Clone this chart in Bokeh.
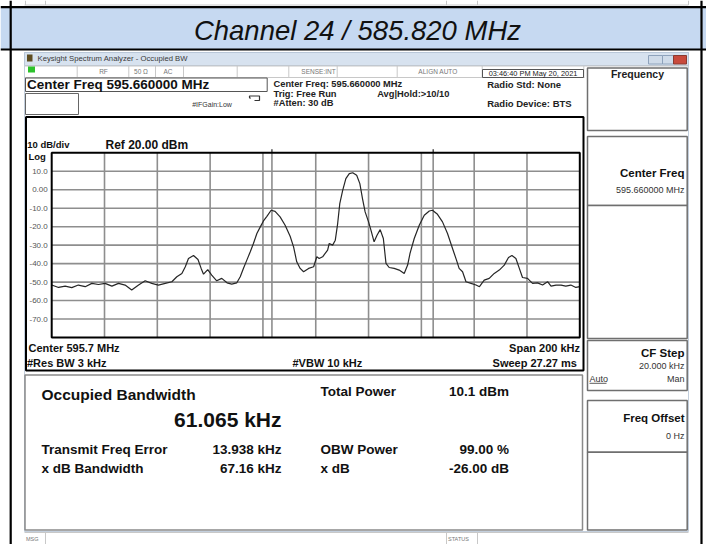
from bokeh.plotting import figure
from bokeh.models import Range1d
from bokeh.core.properties import value
from bokeh.embed import file_html
from bokeh.resources import INLINE

# ---------------- data ----------------
title_text = "Channel 24 / 585.820 MHz"

freq_khz = [-100, -97.4, -94.9, -92.4, -89.9, -87.3, -84.8, -82.3, -79.8, -77.2,
            -74.7, -72.2, -69.7, -67.1, -64.6, -62.1, -59.6, -57.0, -54.5,
            -52.6, -50.7, -49.4, -48.2, -46.3, -44.6, -43.4, -42.5, -40.9, -39.4,
            -37.5, -35.6, -33.6, -31.8, -29.9, -28.6,
            -27.4, -26.1, -24.8, -23.6, -22.3, -21.0, -19.8, -18.5, -16.9, -15.4,
            -13.5, -11.6, -9.7, -8.4, -7.2, -5.9, -4.6, -2.7, -0.8, 0.4,
            1.3, 2.6, 4.5, 5.1, 6.4, 7.4, 8.3, 9.1, 10.2, 11.4,
            12.7, 14.0, 15.5, 16.7, 17.7, 18.7, 20.0, 20.9, 22.1, 23.2,
            24.4, 25.6, 26.6, 27.8, 29.7, 31.6, 33.5, 34.8, 35.7, 37.3,
            39.2, 41.1, 43.0, 44.2, 46.1, 48.0, 49.9, 51.8, 53.3, 54.3,
            55.6, 56.9, 58.8, 60.7, 62.0, 63.8, 65.7, 67.6, 69.5, 71.4,
            73.0, 74.3, 75.8, 77.1, 78.3, 80.2, 82.1, 84.0, 85.9, 87.8,
            89.1, 91.0, 92.9, 94.7, 96.6, 98.5, 100]
level_dbm = [-51.6, -52.9, -52.2, -53.0, -51.6, -52.5, -50.7, -51.3, -50.7, -52.2,
             -50.7, -51.6, -54.3, -51.6, -49.3, -50.7, -51.6, -50.7, -49.8,
             -47.1, -45.3, -41.7, -37.2, -35.6, -37.8, -42.6, -45.7, -43.2, -46.2,
             -49.3, -48.0, -50.4, -51.1, -50.4, -47.1,
             -42.6, -38.1, -33.6, -29.1, -23.7, -20.1, -16.9, -14.4, -11.1, -11.7,
             -14.7, -19.2, -25.2, -30.9, -39.0, -42.6, -44.4, -42.6, -41.7, -36.3,
             -37.2, -36.3, -32.7, -29.1, -30.0, -27.3, -18.3, -7.5, -0.3, 6.0,
             8.7, 9.2, 7.8, 3.3, -4.8, -12.0, -17.4, -21.9, -28.2, -24.6,
             -21.6, -26.4, -39.9, -42.1, -42.6, -43.5, -45.3, -40.8, -34.5, -26.4,
             -19.2, -13.8, -11.5, -11.1, -13.3, -17.4, -23.7, -31.8, -38.1, -42.6,
             -44.4, -49.8, -50.7, -51.6, -52.5, -48.9, -48.0, -45.3, -43.5, -40.8,
             -36.7, -35.6, -37.2, -42.6, -47.5, -48.0, -50.7, -50.4, -51.6, -49.8,
             -52.2, -51.6, -51.6, -52.2, -51.6, -52.9, -52.5]

db_ticks = [10, 0, -10, -20, -30, -40, -50, -60, -70]
db_tick_labels = ["10.0", "0.00", "-10.0", "-20.0", "-30.0", "-40.0", "-50.0", "-60.0", "-70.0"]
freq_grid = [-80, -60, -40, -20, 0, 20, 40, 60, 80]

span_khz = 200
ref_level_dbm = 20
db_per_div = 10
n_div = 10
obw_khz = 61.065
freq_error_khz = 13.938

status_labels = ["RF", "50 Ω", "AC", "SENSE:INT", "ALIGN AUTO"]
status_label_x = [103, 140.5, 167.5, 318, 437.5]
status_dividers = [76.7, 128.3, 155, 183, 236.7, 288.3, 336.7, 396.7, 481.7, 583.3]
bar_dividers = [25, 45, 446, 477, 688]

# ---------------- figure (pixel frame) ----------------
W, H = 706, 544
X0, X1, Y0, Y1 = 0, W, H, 0
p = figure(width=W, height=H, x_range=Range1d(X0, X1), y_range=Range1d(Y0, Y1),
           output_backend="svg", toolbar_location=None, min_border=0,
           x_axis_location=None, y_axis_location=None)
p.grid.visible = False
p.outline_line_color = None
p.background_fill_color = "white"
p.border_fill_color = "white"

FONT = value("Liberation Sans")


def txt(x, y, s, size, style="normal", align="left", color="#111111", **kw):
    p.text(x=[x], y=[y], text=[s], text_font=FONT, text_font_size=f"{size}px",
           text_font_style=style, text_align=align, text_baseline="middle",
           text_color=color, **kw)


def box(l, r, t, b, fill=None, line="#000000", lw=1.0):
    p.quad(left=[l], right=[r], top=[t], bottom=[b], fill_color=fill,
           line_color=line, line_width=lw)


def hline(x0, x1, y, color="#000", lw=1.0):
    p.segment(x0=[x0], x1=[x1], y0=[y], y1=[y], line_color=color, line_width=lw)


def vline(x, y0, y1, color="#000", lw=1.0):
    p.segment(x0=[x], x1=[x], y0=[y0], y1=[y1], line_color=color, line_width=lw)


# ---------------- document table ----------------
# tail of the previous screenshot (its status bar)
for xd in bar_dividers:
    vline(xd, 0, 4.5, color="#c8c8c8")
hline(24, 688, 4.5, color="#c8c8c8")
box(X0, X1, 7.5, 48.5, fill="#c6d9f1", line=None)
hline(X0, X1, 6.6, lw=2.2)
hline(X0, X1, 49, lw=2.2)
vline(10.2, Y1, Y0, lw=2.2)
vline(701, Y1, Y0, lw=2.2)
txt(357, 29.5, title_text, 27.5, style="italic", align="center", color="#111111")

# ---------------- analyser window ----------------
box(24, 688, 52, 531, fill="white", line="#c3cfdd", lw=1)
box(24, 688, 52, 65, fill="#d7e2ef", line="#b9c7d8", lw=1)
box(26.5, 32, 54, 61, fill="#5e4c20", line=None)
txt(37, 58.3, "Keysight Spectrum Analyzer - Occupied BW", 7.7, color="#3a3a3a")
box(648, 662, 55, 63.5, fill="#cfdbe9", line="#8ea2bb")
box(662, 673, 55, 63.5, fill="#cfdbe9", line="#8ea2bb")
box(673, 686, 55, 63.5, fill="#c94a3c", line="#8a3a30")

# status row
hline(24, 688, 65.5, color="#c8c8c8")
hline(24, 584, 77, color="#c8c8c8")
for xd in status_dividers:
    vline(xd, 65.5, 77, color="#c8c8c8")
box(27.5, 34.5, 66, 72, fill="#2cc22c", line=None)
for s, xs in zip(status_labels, status_label_x):
    txt(xs, 71.3, s, 6.5, align="center", color="#777777")
box(482, 583, 69, 77, fill="white", line="#555555")
txt(532.5, 73, "03:46:40 PM May 20, 2021", 7.4, align="center", color="#222222")

# centre-frequency row
box(25, 266.7, 77.5, 91, fill="white", line="#555555")
txt(26.5, 84.2, "Center Freq 595.660000 MHz", 13.5, style="bold")
txt(273, 83.5, "Center Freq: 595.660000 MHz", 9.3, style="bold", color="#222222")
txt(273, 93.3, "Trig: Free Run", 9.3, style="bold", color="#222222")
txt(273, 102.8, "#Atten: 30 dB", 9.3, style="bold", color="#222222")
txt(376.7, 93.3, "Avg|Hold:>10/10", 9.3, style="bold", color="#222222")
txt(486.7, 83.5, "Radio Std: None", 9.5, style="bold", color="#222222")
txt(486.7, 103.3, "Radio Device: BTS", 9.5, style="bold", color="#222222")
box(25, 78, 93, 114, fill="white", line="#666666")
txt(191.7, 103.5, "#IFGain:Low", 7, color="#333333")
p.line(x=[250, 249, 249, 259, 259, 254], y=[98, 97, 95.5, 95.5, 100, 100],
       line_color="#333333", line_width=1.2)

# ---------------- graph box ----------------
box(25.5, 583, 116.5, 370, fill="white", line="#000000", lw=2)
txt(26.7, 144.3, "10 dB/div", 9.5, style="bold")
txt(105, 144, "Ref 20.00 dBm", 12, style="bold")
txt(28, 156, "Log", 9.5, style="bold")

# graticule pixel box -> data ranges through the library scales
GX0, GX1, GY0, GY1 = 51.2, 579.3, 152.3, 337.0
f_lo, f_hi = -span_khz / 2, span_khz / 2
d_top = ref_level_dbm
d_bot = ref_level_dbm - n_div * db_per_div
kpp = (GX1 - GX0) / (f_hi - f_lo)
dpp = (GY1 - GY0) / (d_top - d_bot)
p.extra_x_ranges = {"khz": Range1d(f_lo - (GX0 - X0) / kpp, f_hi + (X1 - GX1) / kpp)}
p.extra_y_ranges = {"dbm": Range1d(d_bot - (Y0 - GY1) / dpp, d_top + (GY0 - Y1) / dpp)}
R = dict(x_range_name="khz", y_range_name="dbm")

GRID = "#8e8e8e"
p.segment(x0=freq_grid, x1=freq_grid, y0=[d_bot] * len(freq_grid), y1=[d_top] * len(freq_grid),
          line_color=GRID, line_width=1.6, **R)
p.segment(x0=[f_lo] * len(db_ticks), x1=[f_hi] * len(db_ticks), y0=db_ticks, y1=db_ticks,
          line_color=GRID, line_width=1.6, **R)
markers = [freq_error_khz - obw_khz / 2, freq_error_khz + obw_khz / 2]
p.segment(x0=markers, x1=markers, y0=[d_bot] * 2, y1=[d_top] * 2,
          line_color=GRID, line_width=1.6, **R)
p.segment(x0=markers, x1=markers, y0=[GY0 - 3.5] * 2, y1=[GY0] * 2,
          line_color="#222222", line_width=1.2, x_range_name="khz")
p.line(x=freq_khz, y=level_dbm, line_color="#262626", line_width=1.2, **R)
p.quad(left=[f_lo], right=[f_hi], top=[d_top], bottom=[d_bot], fill_color=None,
       line_color="#000000", line_width=2, **R)
p.text(x=[f_lo] * len(db_ticks), y=db_ticks, text=db_tick_labels, x_offset=-4,
       text_font=FONT, text_font_size="8px", text_align="right", text_baseline="middle",
       text_color="#555555", **R)

txt(28, 347.5, "Center  595.7 MHz", 11, style="bold")
txt(26.5, 362.5, "#Res BW  3 kHz", 11, style="bold")
txt(292, 362.5, "#VBW  10 kHz", 11, style="bold")
txt(579.5, 347.5, "Span 200 kHz", 11, style="bold", align="right")
txt(579.5, 362.5, "Sweep  27.27 ms", 11, style="bold", align="right")

# ---------------- results box ----------------
box(24.5, 582, 374.5, 529.5, fill="white", line="#8a8a8a", lw=1.5)
txt(41, 393.6, "Occupied Bandwidth", 15.5, style="bold")
txt(281, 418.6, f"{obw_khz:.3f} kHz", 21, style="bold", align="right")
txt(320, 391, "Total Power", 13.5, style="bold")
txt(508.5, 391, "10.1 dBm", 13.5, style="bold", align="right")
txt(41, 449, "Transmit Freq Error", 13.5, style="bold")
txt(281, 449, f"{freq_error_khz:.3f} kHz", 13.5, style="bold", align="right")
txt(320, 449, "OBW Power", 13.5, style="bold")
txt(508.5, 449, "99.00 %", 13.5, style="bold", align="right")
txt(41, 468, "x dB Bandwidth", 13.5, style="bold")
txt(281, 468, "67.16 kHz", 13.5, style="bold", align="right")
txt(320, 468, "x dB", 13.5, style="bold")
txt(508.5, 468, "-26.00 dB", 13.5, style="bold", align="right")

# ---------------- soft-key panel ----------------
KL, KR = 587, 686.7
KEY = "#6f6f6f"
box(KL, KR, 67.5, 130, fill="white", line=KEY, lw=1.5)
txt(637, 73.5, "Frequency", 10.5, style="bold", align="center", color="#222222")
box(KL, KR, 136, 205, fill="white", line=KEY, lw=1.5)
txt(684, 172.7, "Center Freq", 11.5, style="bold", align="right")
txt(684, 189.3, "595.660000 MHz", 9, align="right", color="#333333")
box(KL, KR, 205, 338, fill="white", line=KEY, lw=1.5)
box(KL, KR, 340, 390, fill="white", line=KEY, lw=1.5)
txt(684, 352, "CF Step", 11.5, style="bold", align="right")
txt(684, 365, "20.000 kHz", 9, align="right", color="#333333")
txt(589, 378.3, "Auto", 9, color="#333333")
hline(589, 606, 382.8, color="#333333", lw=0.8)
txt(684, 378.3, "Man", 9, align="right", color="#333333")
box(KL, KR, 400, 451.7, fill="white", line=KEY, lw=1.5)
txt(684, 417, "Freq Offset", 11.5, style="bold", align="right")
txt(684, 435, "0 Hz", 9, align="right", color="#333333")
box(KL, KR, 451.7, 529.5, fill="white", line=KEY, lw=1.5)

# status bar of this screenshot
for xd in bar_dividers[1:4]:
    vline(xd, 532, Y0, color="#c8c8c8")
hline(24, 688, 532, color="#c8c8c8")
txt(25.5, 538.5, "MSG", 5.5, color="#777777")
txt(447.5, 538.5, "STATUS", 5.5, color="#777777")

open("out.html", "w").write(file_html(p, INLINE))
